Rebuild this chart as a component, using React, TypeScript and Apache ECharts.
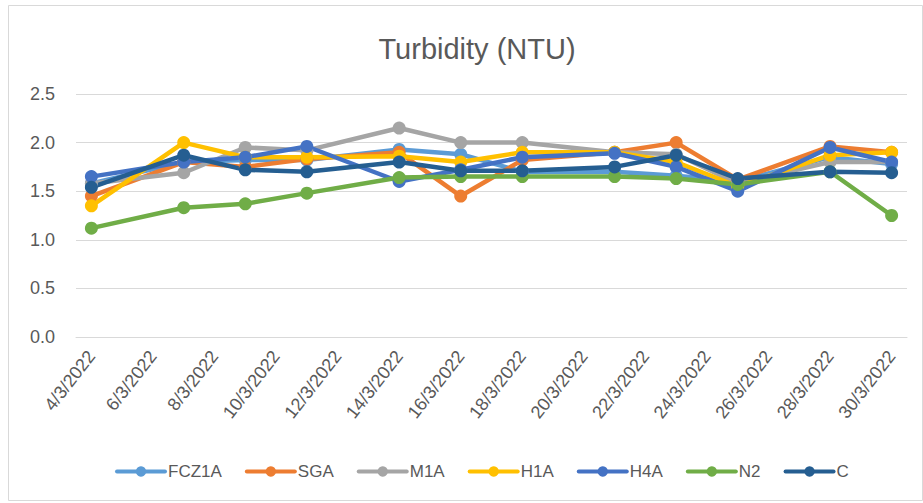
import React, { useEffect, useRef } from "react";
import * as echarts from "echarts";

const categories = [
  "4/3/2022", "5/3/2022", "6/3/2022", "7/3/2022", "8/3/2022", "9/3/2022", "10/3/2022",
  "11/3/2022", "12/3/2022", "13/3/2022", "14/3/2022", "15/3/2022", "16/3/2022", "17/3/2022",
  "18/3/2022", "19/3/2022", "20/3/2022", "21/3/2022", "22/3/2022", "23/3/2022", "24/3/2022",
  "25/3/2022", "26/3/2022", "27/3/2022", "28/3/2022", "29/3/2022", "30/3/2022",
];

const sampleDates = [
  "4/3/2022", "7/3/2022", "9/3/2022", "11/3/2022", "14/3/2022", "16/3/2022",
  "18/3/2022", "21/3/2022", "23/3/2022", "25/3/2022", "28/3/2022", "30/3/2022",
];

const FCZ1A = [1.58, 1.8, 1.82, 1.82, 1.93, 1.88, 1.7, 1.7, 1.66, 1.6, 1.85, 1.78];
const SGA = [1.45, 1.8, 1.75, 1.83, 1.9, 1.45, 1.82, 1.9, 2.0, 1.62, 1.96, 1.9];
const M1A = [1.58, 1.69, 1.95, 1.92, 2.15, 2.0, 2.0, 1.9, 1.88, 1.58, 1.8, 1.8];
const H1A = [1.35, 2.0, 1.85, 1.85, 1.86, 1.8, 1.9, 1.9, 1.8, 1.55, 1.87, 1.9];
const H4A = [1.65, 1.8, 1.85, 1.96, 1.6, 1.72, 1.85, 1.89, 1.75, 1.5, 1.95, 1.8];
const N2 = [1.12, 1.33, 1.37, 1.48, 1.64, 1.65, 1.65, 1.65, 1.63, 1.57, 1.7, 1.25];
const C = [1.54, 1.87, 1.72, 1.7, 1.8, 1.71, 1.71, 1.75, 1.87, 1.63, 1.7, 1.69];

const seriesList: { name: string; values: number[]; color: string }[] = [
  { name: "FCZ1A", values: FCZ1A, color: "#5B9BD5" },
  { name: "SGA", values: SGA, color: "#ED7D31" },
  { name: "M1A", values: M1A, color: "#A5A5A5" },
  { name: "H1A", values: H1A, color: "#FFC000" },
  { name: "H4A", values: H4A, color: "#4472C4" },
  { name: "N2", values: N2, color: "#70AD47" },
  { name: "C", values: C, color: "#255E91" },
];

const FONT = "'Liberation Sans', Arial, sans-serif";
const TEXT = "#595959";

export default function App() {
  const ref = useRef<HTMLDivElement>(null);

  useEffect(() => {
    if (!ref.current) return;
    const chart = echarts.init(ref.current, undefined, { renderer: "svg" });
    chart.setOption({
      animation: false,
      backgroundColor: "#ffffff",
      title: {
        text: "Turbidity (NTU)",
        left: 472,
        top: 29,
        textAlign: "center",
        textStyle: { fontFamily: FONT, fontSize: 29, fontWeight: "normal", color: TEXT },
      },
      graphic: [
        {
          type: "rect",
          shape: { x: 8.5, y: 5.5, width: 914, height: 495 },
          style: { fill: "none", stroke: "#d9d9d9", lineWidth: 1 },
          silent: true,
        },
      ],
      grid: { left: 76, right: 16, top: 94, bottom: 166, containLabel: false },
      legend: {
        top: 458,
        left: 110,
        itemWidth: 48,
        itemHeight: 13,
        itemGap: 23,
        lineStyle: { width: 4 },
        textStyle: { fontFamily: FONT, fontSize: 17, color: TEXT, padding: [0, 0, 0, -2] },
        data: seriesList.map((s) => s.name),
      },
      xAxis: {
        type: "category",
        data: categories,
        boundaryGap: true,
        axisLine: { show: true, lineStyle: { color: "#d9d9d9", width: 1 } },
        axisTick: { show: false },
        axisLabel: {
          interval: 1,
          rotate: 52,
          margin: 16,
          fontFamily: FONT,
          fontSize: 18,
          color: TEXT,
        },
        splitLine: { show: false },
      },
      yAxis: {
        type: "value",
        min: 0,
        max: 2.5,
        interval: 0.5,
        axisLine: { show: false },
        axisTick: { show: false },
        axisLabel: {
          margin: 21,
          fontFamily: FONT,
          fontSize: 18,
          color: TEXT,
          formatter: (v: number) => v.toFixed(1),
        },
        splitLine: { lineStyle: { color: "#d9d9d9", width: 1.2 } },
      },
      series: seriesList.map((s) => ({
        name: s.name,
        type: "line",
        data: sampleDates.map((d, i) => [d, s.values[i]]),
        symbol: "circle",
        symbolSize: 13,
        showSymbol: true,
        color: s.color,
        itemStyle: { color: s.color },
        lineStyle: { color: s.color, width: 4.5, join: "round", cap: "round" },
      })),
    });
    return () => chart.dispose();
  }, []);

  return (
    <div
      ref={ref}
      style={{ position: "absolute", left: 0, top: 0, width: 923, height: 503, background: "#fff" }}
    />
  );
}
